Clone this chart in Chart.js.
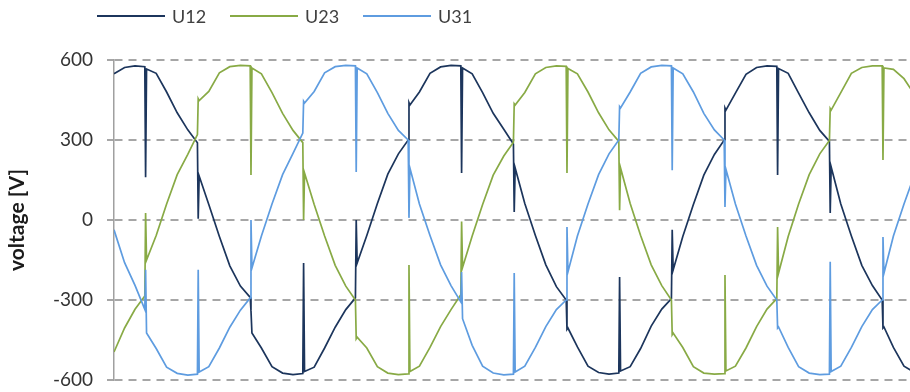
<!DOCTYPE html>
<html>
<head>
<meta charset="utf-8">
<script src="https://cdn.jsdelivr.net/npm/chart.js@4.4.1/dist/chart.umd.min.js"></script>
<style>
  html, body { margin: 0; padding: 0; background: #ffffff; }
  #wrap { width: 910px; height: 392px; }
</style>
</head>
<body>
<div id="wrap"><canvas id="chart" width="910" height="392"></canvas></div>
<script>
// Sample times in ms; every commutation is sampled just before, at and just after the notch.
const timeMs = [
  0, 0.67, 1.33,
  1.95, 2, 2.06, 2.67, 3.33, 4, 4.67,
  5.28, 5.33, 5.39, 6, 6.67, 7.33, 8,
  8.62, 8.67, 8.73, 9.33, 10, 10.67, 11.33,
  11.95, 12, 12.06, 12.67, 13.33, 14, 14.67,
  15.28, 15.33, 15.39, 16, 16.67, 17.33, 18,
  18.62, 18.67, 18.73, 19.33, 20, 20.67, 21.33,
  21.95, 22, 22.06, 22.67, 23.33, 24, 24.67,
  25.28, 25.33, 25.39, 26, 26.67, 27.33, 28,
  28.62, 28.67, 28.73, 29.33, 30, 30.67, 31.33,
  31.95, 32, 32.06, 32.67, 33.33, 34, 34.67,
  35.28, 35.33, 35.39, 36, 36.67, 37.33, 38,
  38.62, 38.67, 38.73, 39.33, 40, 40.67, 41.33,
  41.95, 42, 42.06, 42.67, 43.33, 44, 44.67,
  45.28, 45.33, 45.39, 46, 46.67, 47.33, 48,
  48.62, 48.67, 48.73, 49.33, 50, 50.67
];

// Line-to-line voltages in V
const u12 = [
  548, 572, 578,
  575, 160, 566, 550, 480, 402, 338,
  290, 5, 165, 58, -62, -172, -248,
  -290, -340, -424, -480, -550, -574, -580,
  -576, -161, -568, -552, -480, -402, -336,
  -292, 0, -161, -58, 62, 172, 248,
  300, 440, 431, 480, 550, 574, 580,
  578, 176, 570, 548, 478, 400, 340,
  285, 30, 195, 62, -58, -168, -250,
  -300, -410, -405, -476, -548, -572, -578,
  -574, -214, -566, -550, -482, -398, -334,
  -295, -37, -187, -62, 58, 168, 246,
  300, 420, 412, 476, 546, 572, 578,
  576, 169, 568, 550, 476, 402, 336,
  295, 26, 199, 60, -60, -170, -246,
  -300, -405, -401, -478, -548, -572
];

const u23 = [
  -495, -405, -335,
  -285, 26, -150, -58, 60, 170, 246,
  320, 455, 448, 482, 552, 575, 580,
  578, 169, 570, 548, 478, 400, 336,
  290, 0, 176, 58, -60, -170, -248,
  -300, -445, -439, -480, -550, -574, -580,
  -577, -169, -568, -548, -478, -400, -336,
  -280, -6, -178, -60, 58, 168, 240,
  292, 436, 431, 478, 548, 572, 578,
  576, 176, 568, 548, 480, 402, 338,
  295, 37, 195, 62, -58, -168, -246,
  -300, -430, -424, -478, -550, -574, -578,
  -576, -206, -566, -548, -480, -400, -334,
  -295, -26, -199, -62, 60, 170, 248,
  298, 418, 412, 478, 550, 572, 578,
  578, 225, 570, 565, 530, 470
];

const u31 = [
  -37, -160, -245,
  -335, -187, -424, -482, -552, -575, -582,
  -578, -187, -570, -550, -480, -402, -338,
  -292, 0, -180, -60, 60, 170, 250,
  326, 445, 439, 482, 552, 575, 580,
  578, 180, 570, 548, 478, 400, 336,
  300, 8, 195, 60, -58, -168, -246,
  -307, -195, -370, -470, -548, -574, -581,
  -578, -199, -570, -548, -478, -400, -336,
  -300, -26, -195, -60, 60, 170, 248,
  300, 425, 420, 480, 550, 574, 580,
  578, 187, 570, 548, 480, 400, 338,
  300, 49, 190, 60, -60, -170, -248,
  -300, -405, -401, -478, -550, -574, -580,
  -578, -157, -568, -548, -478, -400, -336,
  -300, -64, -200, -60, 60, 170
];

const seriesNames = ['U12', 'U23', 'U31'];
const seriesColors = ['#1c355c', '#88aa45', '#5e9ce0'];
const yTicks = [-600, -300, 0, 300, 600];

const toPoints = vals => vals.map((v, i) => ({ x: timeMs[i], y: v }));

// Legend drawn as line samples in a single row above the plot
const lineLegend = {
  id: 'lineLegend',
  afterDraw(chart) {
    const { ctx } = chart;
    ctx.save();
    chart.data.datasets.forEach((ds, i) => {
      const x0 = 97 + 133 * i;
      const y = 16;
      ctx.strokeStyle = ds.borderColor;
      ctx.lineWidth = 2;
      ctx.beginPath();
      ctx.moveTo(x0, y);
      ctx.lineTo(x0 + 68, y);
      ctx.stroke();
      ctx.fillStyle = '#404040';
      ctx.font = '18px Lato';
      ctx.textAlign = 'left';
      ctx.textBaseline = 'middle';
      ctx.fillText(ds.label, x0 + 75, y + 1);
    });
    ctx.restore();
  }
};

new Chart(document.getElementById('chart'), {
  type: 'line',
  data: {
    datasets: [u12, u23, u31].map((vals, i) => ({
      label: seriesNames[i],
      data: toPoints(vals),
      borderColor: seriesColors[i],
      backgroundColor: seriesColors[i],
      borderWidth: 1.7,
      pointRadius: 0,
      tension: 0,
      fill: false,
      order: 3 - i
    }))
  },
  options: {
    responsive: false,
    animation: false,
    devicePixelRatio: 1,
    layout: { padding: { top: 60, bottom: 12, left: 0, right: 0 } },
    plugins: { legend: { display: false }, tooltip: { enabled: false } },
    scales: {
      x: { type: 'linear', min: 0, max: 50.38, display: false },
      y: {
        min: -600,
        max: 600,
        afterBuildTicks: s => { s.ticks = yTicks.map(v => ({ value: v })); },
        afterFit: s => { s.width = 114; s.paddingTop = 0; s.paddingBottom = 0; },
        ticks: { padding: 14, color: '#333333', font: { family: 'Lato', size: 19 } },
        grid: { color: '#a6a6a6', lineWidth: 2, tickLength: 7, tickBorderDash: [] },
        border: { display: true, color: '#a0a0a0', width: 1.5, dash: [8, 6] },
        title: {
          display: true,
          text: 'voltage [V]',
          color: '#1a1a1a',
          font: { family: 'Lato', size: 21, weight: 'bold' },
          padding: { top: 5, bottom: 0 }
        }
      }
    }
  },
  plugins: [lineLegend]
});
</script>
</body>
</html>
